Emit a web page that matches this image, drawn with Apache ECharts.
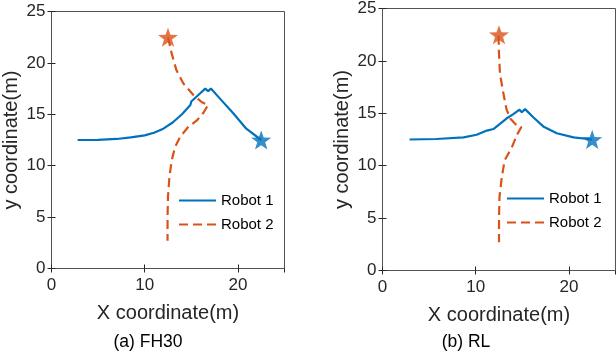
<!DOCTYPE html>
<html>
<head>
<meta charset="utf-8">
<script src="https://cdn.jsdelivr.net/npm/echarts@6/dist/echarts.min.js"></script>
<style>
  html, body { margin: 0; padding: 0; background: #fff; }
  #chart { width: 616px; height: 352px; }
</style>
</head>
<body>
<div id="chart"></div>
<script>
// ------------------------------
// Data
// ------------------------------
var seriesNames = ['Robot 1', 'Robot 2'];
var captions = ['(a) FH30', '(b) RL'];

// (a) FH30
var fh30Robot1 = [[2.8, 12.5], [5, 12.52], [7, 12.6], [8.5, 12.75], [10, 12.95], [11, 13.2], [12, 13.6],
    [13, 14.2], [14, 15.0], [14.9, 15.9], [15.0, 16.25], [15.2, 16.3], [15.9, 17.0], [16.5, 17.5],
    [16.8, 17.25], [17.1, 17.5], [18.1, 16.5], [19.5, 15.1], [20.9, 13.6], [22.5, 12.5]];
var fh30Robot2 = [[12.5, 22.5], [12.9, 20.9], [13.4, 19.3], [14.15, 18.0], [15.2, 16.9], [16.1, 16.2],
    [16.8, 15.9], [16.3, 15.15], [15.6, 14.4], [14.7, 13.8], [13.8, 12.8], [13.25, 11.8], [12.9, 10.5],
    [12.65, 8.9], [12.5, 7.0], [12.45, 5.0], [12.45, 2.7]];

// (b) RL
var rlRobot1 = [[2.9, 12.5], [5.8, 12.55], [8.7, 12.7], [10.1, 12.95], [11.2, 13.35], [11.9, 13.5],
    [12.6, 14.0], [13.3, 14.5], [14.0, 14.9], [14.7, 15.35], [14.95, 15.1], [15.3, 15.4], [16.2, 14.6],
    [17.25, 13.75], [18.7, 13.1], [20.5, 12.7], [22.5, 12.5]];
var rlRobot2 = [[12.45, 22.4], [12.5, 20.7], [12.6, 18.8], [12.95, 17.0], [13.3, 15.4], [13.7, 14.5],
    [14.4, 13.85], [14.9, 13.7], [14.4, 12.9], [13.9, 11.8], [13.1, 10.5], [12.8, 8.9], [12.55, 7.0],
    [12.5, 4.8], [12.5, 2.7]];

// goal positions (stars)
var goalRobot1 = [[22.5, 12.5]];
var goalRobot2 = [[12.5, 22.5]];

var xMin = 0, xMax = 25, xStep = 10;
var yMin = 0, yMax = 25, yStep = 5;

var panels = [
    { r1: fh30Robot1, r2: fh30Robot2 },
    { r1: rlRobot1, r2: rlRobot2 }
];

// ------------------------------
// Styles
// ------------------------------
var blue = '#0072BD';
var orange = '#D95319';
var axisColor = '#262626';
var font = '"Liberation Sans", Arial, Helvetica, sans-serif';
var starPath = 'path://M0,-10 L2.35,-3.24 L9.51,-3.09 L3.8,1.24 L5.88,8.09 L0,4 L-5.88,8.09 L-3.8,1.24 L-9.51,-3.09 L-2.35,-3.24 Z';

var grids = [
    { left: 51.5, top: 11.5, width: 233, height: 257 },
    { left: 382.5, top: 7.5, width: 233, height: 263 }
];
var legendPos = [
    { left: 173, top: 188 },
    { left: 501, top: 186 }
];
var captionPos = [[148, 342], [466, 342]];

var chart = echarts.init(document.getElementById('chart'));

var xAxes = [], yAxes = [], series = [], legends = [], graphics = [];

grids.forEach(function (g, i) {
    g.show = true;
    g.borderColor = axisColor;
    g.borderWidth = 0.8;
    g.containLabel = false;

    // main axes (bottom / left)
    xAxes.push({
        type: 'value', gridIndex: i, position: 'bottom',
        min: xMin, max: xMax, interval: xStep,
        name: 'X coordinate(m)', nameLocation: 'middle', nameGap: 35,
        nameTextStyle: { fontSize: 20, color: axisColor, fontFamily: font },
        axisLine: { show: false },
        axisTick: { inside: true, length: 4, lineStyle: { color: axisColor } },
        axisLabel: { fontSize: 17, color: axisColor, fontFamily: font, margin: 8, showMaxLabel: false },
        splitLine: { show: false }
    });
    yAxes.push({
        type: 'value', gridIndex: i, position: 'left',
        min: yMin, max: yMax, interval: yStep,
        name: 'y coordinate(m)', nameLocation: 'middle', nameGap: 30,
        nameTextStyle: { fontSize: 20, color: axisColor, fontFamily: font },
        axisLine: { show: false },
        axisTick: { inside: true, length: 4, lineStyle: { color: axisColor } },
        axisLabel: { fontSize: 17, color: axisColor, fontFamily: font, margin: 6 },
        splitLine: { show: false }
    });
});

// mirror axes (top / right) only for the inner ticks of the box
grids.forEach(function (g, i) {
    xAxes.push({
        type: 'value', gridIndex: i, position: 'top',
        min: xMin, max: xMax, interval: xStep,
        axisLine: { show: false },
        axisTick: { inside: true, length: 4, lineStyle: { color: axisColor } },
        axisLabel: { show: false }, splitLine: { show: false }
    });
    yAxes.push({
        type: 'value', gridIndex: i, position: 'right',
        min: yMin, max: yMax, interval: yStep,
        axisLine: { show: false },
        axisTick: { inside: true, length: 4, lineStyle: { color: axisColor } },
        axisLabel: { show: false }, splitLine: { show: false }
    });
});

panels.forEach(function (p, i) {
    series.push({
        name: seriesNames[0], type: 'line', xAxisIndex: i, yAxisIndex: i,
        data: p.r1, symbol: 'none', color: blue,
        lineStyle: { width: 2.2, color: blue }, z: 3
    });
    series.push({
        name: seriesNames[1], type: 'line', xAxisIndex: i, yAxisIndex: i,
        data: p.r2, symbol: 'none', color: orange,
        lineStyle: { width: 2.2, color: orange, type: [9, 5] }, z: 2
    });
    series.push({
        name: 'goal1', type: 'scatter', xAxisIndex: i, yAxisIndex: i,
        data: goalRobot1, symbol: starPath, symbolSize: [20, 19],
        itemStyle: { color: blue }, z: 4
    });
    series.push({
        name: 'goal2', type: 'scatter', xAxisIndex: i, yAxisIndex: i,
        data: goalRobot2, symbol: starPath, symbolSize: [20, 19],
        itemStyle: { color: orange }, z: 4
    });

    legends.push({
        data: seriesNames, orient: 'vertical',
        left: legendPos[i].left, top: legendPos[i].top,
        itemWidth: 37, itemHeight: 14, itemGap: 9,
        itemStyle: { opacity: 0 },
        textStyle: { fontSize: 15, color: '#000', fontFamily: font }
    });

    graphics.push({
        type: 'text', x: captionPos[i][0], y: captionPos[i][1],
        style: {
            text: captions[i], fill: '#000', font: '17.5px ' + font,
            textAlign: 'center', textVerticalAlign: 'middle'
        }
    });
});

var option = {
    animation: false,
    backgroundColor: '#fff',
    grid: grids,
    xAxis: xAxes,
    yAxis: yAxes,
    legend: legends,
    series: series,
    graphic: graphics
};
chart.setOption(option);
</script>
</body>
</html>
